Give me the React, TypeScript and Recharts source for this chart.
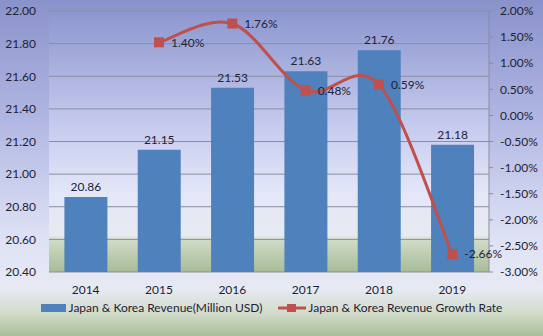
import React from 'react';
import {
  ComposedChart,
  Bar,
  Line,
  XAxis,
  YAxis,
  CartesianGrid,
  Legend,
  LabelList,
} from 'recharts';

// values
const years = ['2014', '2015', '2016', '2017', '2018', '2019'];
const revenue = [20.86, 21.15, 21.53, 21.63, 21.76, 21.18];
const growthRate: (number | null)[] = [null, 1.4, 1.76, 0.48, 0.59, -2.66];

const leftTicks = [20.4, 20.6, 20.8, 21.0, 21.2, 21.4, 21.6, 21.8, 22.0];
const rightTicks = [-3, -2.5, -2, -1.5, -1, -0.5, 0, 0.5, 1, 1.5, 2];

const data = years.map((year, i) => ({
  year,
  revenue: revenue[i],
  growth: growthRate[i],
}));

const FONT = 'Lato, "DejaVu Sans", sans-serif';
const TEXT = '#1f2233';
const BAR = '#4f81bd';
const LINE = '#c0504d';

// Excel-style smoothed line (Catmull-Rom, control points at 1/6)
const excelSmooth = (context: any) => {
  let pts: [number, number][] = [];
  return {
    areaStart() {},
    areaEnd() {},
    lineStart() {
      pts = [];
    },
    point(x: number, y: number) {
      pts.push([+x, +y]);
    },
    lineEnd() {
      if (!pts.length) return;
      context.moveTo(pts[0][0], pts[0][1]);
      for (let i = 0; i < pts.length - 1; i++) {
        const p0 = pts[i - 1] || pts[i];
        const p1 = pts[i];
        const p2 = pts[i + 1];
        const p3 = pts[i + 2] || p2;
        context.bezierCurveTo(
          p1[0] + (p2[0] - p0[0]) / 6,
          p1[1] + (p2[1] - p0[1]) / 6,
          p2[0] - (p3[0] - p1[0]) / 6,
          p2[1] - (p3[1] - p1[1]) / 6,
          p2[0],
          p2[1]
        );
      }
    },
  };
};

const SquareDot = (props: any) => {
  const { cx, cy, value } = props;
  if (value == null || cx == null) return null;
  return <rect x={cx - 5} y={cy - 5} width={10} height={10} fill={LINE} />;
};

const GrowthLabel = (props: any) => {
  const { x, y, value } = props;
  if (value == null) return null;
  return (
    <text x={x + 12} y={y} dy="0.35em" fontSize={12} fontFamily={FONT} fill={TEXT}>
      {`${Number(value).toFixed(2)}%`}
    </text>
  );
};

const ChartLegend = () => (
  <div
    style={{
      display: 'flex',
      justifyContent: 'center',
      alignItems: 'center',
      fontFamily: FONT,
      fontSize: 12,
      color: TEXT,
      gap: 16,
    }}
  >
    <span style={{ display: 'flex', alignItems: 'center' }}>
      <span style={{ display: 'inline-block', width: 25, height: 8, background: BAR, marginRight: 3 }} />
      Japan &amp; Korea Revenue(Million USD)
    </span>
    <span style={{ display: 'flex', alignItems: 'center' }}>
      <svg width={28} height={10} style={{ marginRight: 2 }}>
        <line x1={0} y1={5} x2={28} y2={5} stroke={LINE} strokeWidth={3} />
        <rect x={9} y={1} width={9} height={8} fill={LINE} />
      </svg>
      Japan &amp; Korea Revenue Growth Rate
    </span>
  </div>
);

export default function App() {
  return (
    <div
      style={{
        position: 'absolute',
        left: 0,
        top: 0,
        width: 543,
        height: 336,
        background:
          'linear-gradient(180deg, #8a92cb 0%, #b0b6e2 35%, #dde1f5 70%, #e7eaf4 86%, #d2dccb 93%, #a9be99 100%)',
      }}
    >
      <ComposedChart
        width={543}
        height={336}
        data={data}
        margin={{ top: 11, right: 0, left: 0, bottom: 0 }}
        barCategoryGap="21%"
      >
        <defs>
          <linearGradient id="plotBg" x1="0" y1="0" x2="0" y2="1">
            <stop offset="0%" stopColor="#8d97cf" />
            <stop offset="45%" stopColor="#c7ccef" />
            <stop offset="70%" stopColor="#e4e7f8" />
            <stop offset="86%" stopColor="#e6eaf0" />
            <stop offset="88%" stopColor="#cfdac6" />
            <stop offset="100%" stopColor="#a8bc98" />
          </linearGradient>
        </defs>
        <CartesianGrid
          vertical={false}
          stroke="#8a8d9c"
          fill="url(#plotBg)"
          yAxisId="left"
        />
        <XAxis
          dataKey="year"
          height={28}
          tickLine={false}
          axisLine={false}
          tickMargin={7}
          tick={{ fontSize: 12, fill: TEXT, fontFamily: FONT }}
        />
        <YAxis
          yAxisId="left"
          width={49}
          domain={[20.4, 22]}
          ticks={leftTicks}
          tickFormatter={(v: number) => v.toFixed(2)}
          tickLine={false}
          axisLine={false}
          tickMargin={7}
          tick={{ fontSize: 12, fill: TEXT, fontFamily: FONT }}
        />
        <YAxis
          yAxisId="right"
          orientation="right"
          width={54}
          domain={[-3, 2]}
          ticks={rightTicks}
          tickFormatter={(v: number) => `${v.toFixed(2)}%`}
          tickSize={4}
          tickMargin={7}
          tickLine={{ stroke: '#8a8d9c' }}
          axisLine={{ stroke: '#8a8d9c' }}
          tick={{ fontSize: 12, fill: TEXT, fontFamily: FONT, textAnchor: 'start' }}
        />
        <Legend verticalAlign="bottom" height={36} content={<ChartLegend />} />
        <Bar yAxisId="left" dataKey="revenue" fill={BAR} isAnimationActive={false}>
          <LabelList
            dataKey="revenue"
            position="top"
            offset={6}
            formatter={(v: any) => Number(v).toFixed(2)}
            style={{ fontSize: 12, fill: TEXT, fontFamily: FONT }}
          />
        </Bar>
        <Line
          yAxisId="right"
          type={excelSmooth as any}
          dataKey="growth"
          stroke={LINE}
          strokeWidth={3}
          dot={<SquareDot />}
          activeDot={false}
          isAnimationActive={false}
        >
          <LabelList dataKey="growth" content={<GrowthLabel />} />
        </Line>
      </ComposedChart>
    </div>
  );
}
